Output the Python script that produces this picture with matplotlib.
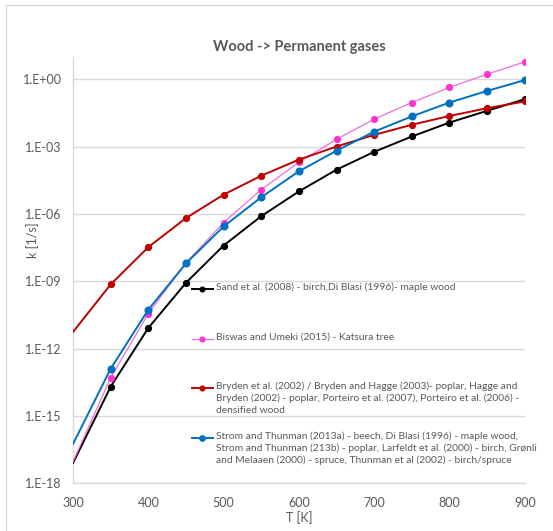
"""Arrhenius rate constants for wood -> permanent gases, several literature sources."""
import math

import matplotlib
matplotlib.use("Agg")
import matplotlib.pyplot as plt
from matplotlib.lines import Line2D
from matplotlib.patches import Rectangle
from matplotlib.ticker import FixedLocator, FuncFormatter

plt.rcParams["font.family"] = ["Lato", "DejaVu Sans"]

T = [300, 350, 400, 450, 500, 550, 600, 650, 700, 750, 800, 850, 900]

# k [1/s] per source
k_sand = [8.0e-18, 2.0e-14, 8.3e-12, 8.5e-10, 3.9e-08, 7.9e-07, 1.0e-05,
          9.3e-05, 5.8e-04, 2.8e-03, 1.17e-02, 3.9e-02, 1.29e-01]
k_biswas = [9.1e-18, 5.0e-14, 3.6e-11, 6.6e-09, 4.1e-07, 1.2e-05, 2.0e-04,
            2.1e-03, 1.66e-02, 9.1e-02, 4.3e-01, 1.66e+00, 5.9e+00]
k_bryden = [5.5e-12, 7.2e-10, 3.3e-08, 6.5e-07, 7.2e-06, 5.0e-05, 2.6e-04,
            1.0e-03, 3.3e-03, 9.3e-03, 2.3e-02, 5.1e-02, 1.02e-01]
k_strom = [5.6e-17, 1.26e-13, 5.4e-11, 6.2e-09, 2.75e-07, 5.5e-06, 7.9e-05,
           6.5e-04, 4.6e-03, 2.2e-02, 9.1e-02, 3.0e-01, 9.1e-01]

labels = [
    "Sand et al. (2008) - birch,Di Blasi (1996)- maple wood",
    "Biswas and Umeki (2015) - Katsura tree",
    "Bryden et al. (2002) / Bryden and Hagge (2003)- poplar, Hagge and\n"
    "Bryden (2002) - poplar, Porteiro et al. (2007), Porteiro et al. (2006) -\n"
    "densified wood",
    "Strom and Thunman (2013a) - beech, Di Blasi (1996) - maple wood,\n"
    "Strom and Thunman (213b) - poplar, Larfeldt et al. (2000) - birch, Grønli\n"
    "and Melaaen (2000) - spruce, Thunman et al (2002) - birch/spruce",
]

ytick_vals = [1e-18, 1e-15, 1e-12, 1e-09, 1e-06, 1e-03, 1e+00]

GREY = "#595959"
series = [
    (k_sand, dict(color="black", lw=1.4, ms=4.2)),
    (k_biswas, dict(color="#F06EDC", mfc="#FF33CC", mec="#FF33CC", lw=0.9, ms=4.2)),
    (k_bryden, dict(color="#C00000", lw=1.4, ms=4.2)),
    (k_strom, dict(color="#0070C0", lw=1.4, ms=4.8)),
]

fig = plt.figure(figsize=(5.53, 5.31), dpi=100)
ax = fig.add_axes([0.132, 0.0898, 0.817, 0.8034])

# chart area frame
fig.patches.append(Rectangle((6 / 553, -0.1), 1.2, 1 - 5 / 531 + 0.1,
                             transform=fig.transFigure, fill=False,
                             ec="#D9D9D9", lw=1.0))

for vals, style in series:
    ax.plot(T, vals, marker="o", markevery=slice(1, None), zorder=3, **style)

ax.set_yscale("log")
ax.set_xlim(300, 900)
ax.set_ylim(1e-18, 1e1)
ax.set_xticks([300, 400, 500, 600, 700, 800, 900])
ax.yaxis.set_major_locator(FixedLocator(ytick_vals))
ax.yaxis.set_minor_locator(FixedLocator([]))
ax.yaxis.set_major_formatter(FuncFormatter(
    lambda v, p: "1.E{:+03d}".format(int(round(math.log10(v))))))
ax.tick_params(length=0, labelsize=9, labelcolor=GREY, pad=8)
ax.tick_params(axis="x", pad=10)
ax.grid(axis="y", color="#D9D9D9", lw=1.0)
ax.set_axisbelow(True)
for side in ("top", "right"):
    ax.spines[side].set_visible(False)
for side in ("left", "bottom"):
    ax.spines[side].set_color("#D9D9D9")
    ax.spines[side].set_linewidth(1.0)

ax.set_title("Wood -> Permanent gases", fontsize=10.5, fontweight="bold",
             color=GREY, pad=4)
ax.set_xlabel("T [K]", fontsize=9, color=GREY, labelpad=1)
ax.set_ylabel("k [1/s]", fontsize=9, color=GREY)
ax.yaxis.set_label_coords(-0.075, 0.57)

# legend keys inside the plot, first text line level with the key
key_y = [0.4555, 0.338, 0.2234, 0.1062]
for (vals, style), lab, y in zip(series, labels, key_y):
    st = dict(style)
    ax.add_line(Line2D([0.263, 0.310], [y, y], transform=ax.transAxes, **st))
    ax.add_line(Line2D([0.2865], [y], marker="o", transform=ax.transAxes,
                       color=st["color"], mfc=st.get("mfc", st["color"]),
                       mec=st.get("mec", st["color"]), ms=st["ms"] * 0.8))
    ax.text(0.316, y + 0.0148, lab, transform=ax.transAxes, fontsize=7.4,
            color=GREY, va="top", ha="left", linespacing=1.34)

fig.savefig("out.png", dpi=100)
